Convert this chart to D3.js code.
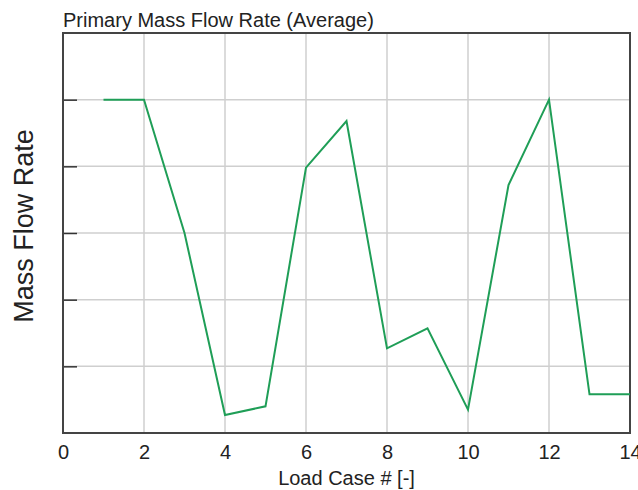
<!DOCTYPE html>
<html>
<head>
<meta charset="utf-8">
<script src="https://cdn.jsdelivr.net/npm/d3@7"></script>
<style>
  body { margin: 0; background: #fff; }
  text { font-family: "Liberation Sans", Arial, sans-serif; fill: #222; }
</style>
</head>
<body>
<div id="chart"></div>
<script>
// load cases and averaged mass flow rate (arbitrary units, y axis has no labels)
var loadCases = [1, 2, 3, 4, 5, 6, 7, 8, 9, 10, 11, 12, 13, 14];
var massFlow  = [5.0, 5.0, 3.0, 0.27, 0.4, 3.98, 4.68, 1.27, 1.57, 0.35, 3.72, 5.0, 0.58, 0.58];
var xTicks = [0, 2, 4, 6, 8, 10, 12, 14];
var yTicks = [1, 2, 3, 4, 5];

var W = 638, H = 490;
var margin = {top: 33, right: 8, bottom: 57, left: 63};
var w = W - margin.left - margin.right,
    h = H - margin.top - margin.bottom;

var svg = d3.select('#chart').append('svg')
  .attr('width', W)
  .attr('height', H);

var g = svg.append('g')
  .attr('transform', 'translate(' + margin.left + ',' + margin.top + ')');

var x = d3.scaleLinear().domain([0, 14]).range([0, w]);
var y = d3.scaleLinear().domain([0, 6]).range([h, 0]);

// grid
g.selectAll('.vgrid').data(xTicks.slice(1, -1)).enter()
  .append('line')
  .attr('x1', d => x(d)).attr('x2', d => x(d))
  .attr('y1', 0).attr('y2', h)
  .style('stroke', '#cfcfcf').style('stroke-width', 1.5);

g.selectAll('.hgrid').data(yTicks).enter()
  .append('line')
  .attr('x1', 0).attr('x2', w)
  .attr('y1', d => y(d)).attr('y2', d => y(d))
  .style('stroke', '#cfcfcf').style('stroke-width', 1.5);

// x axis labels
var axisX = d3.axisBottom(x).tickValues(xTicks).tickSize(0).tickPadding(12);
var gx = g.append('g')
  .attr('transform', 'translate(0,' + h + ')')
  .call(axisX);
gx.select('.domain').remove();
gx.selectAll('text')
  .style('font-family', '"Liberation Sans", Arial, sans-serif')
  .style('font-size', '20px')
  .style('fill', '#222');

// y axis inner ticks, no labels
var axisY = d3.axisRight(y).tickValues(yTicks).tickSize(14).tickFormat('');
var gy = g.append('g').call(axisY);
gy.select('.domain').remove();
gy.selectAll('line').style('stroke', '#333').style('stroke-width', 1.5);

// frame
g.append('rect')
  .attr('x', 0).attr('y', 0)
  .attr('width', w).attr('height', h)
  .style('fill', 'none')
  .style('stroke', '#444')
  .style('stroke-width', 2);

// series
var line = d3.line()
  .x((d, i) => x(loadCases[i]))
  .y(d => y(d));

g.append('path')
  .datum(massFlow)
  .attr('d', line)
  .style('fill', 'none')
  .style('stroke', '#1f9e57')
  .style('stroke-width', 2)
  .style('stroke-linejoin', 'miter');

// title
svg.append('text')
  .attr('x', margin.left)
  .attr('y', 27)
  .style('font-size', '20px')
  .text('Primary Mass Flow Rate (Average)');

// axis titles
svg.append('text')
  .attr('x', margin.left + w / 2)
  .attr('y', 485)
  .attr('text-anchor', 'middle')
  .style('font-size', '20px')
  .text('Load Case # [-]');

svg.append('text')
  .attr('transform', 'translate(33,' + (margin.top + h / 2 - 7) + ')rotate(-90)')
  .attr('text-anchor', 'middle')
  .style('font-size', '27px')
  .text('Mass Flow Rate');
</script>
</body>
</html>
